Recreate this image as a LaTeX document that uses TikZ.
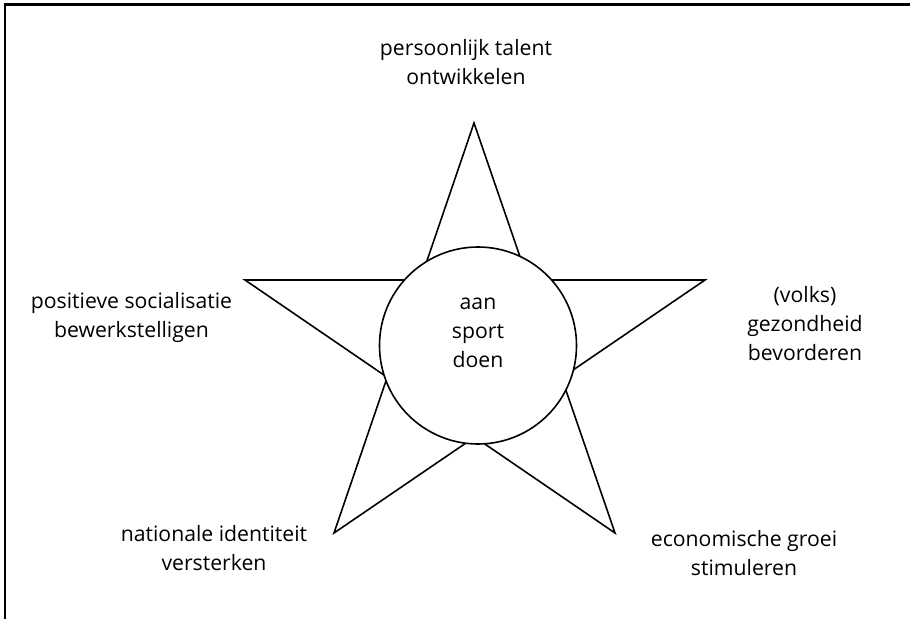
\documentclass[tikz,border=0pt]{standalone}
\usepackage{fontspec}
\setmainfont{Open Sans}
\begin{document}
\begin{tikzpicture}[x=0.75pt,y=-0.75pt,
  starline/.style={line width=1.2pt,line join=miter},
  framestyle/.style={line width=1.6pt},
  lbl/.style={align=center,anchor=base,inner sep=0pt,font=\fontsize{15.9}{21.4}\selectfont},
  hub/.style={circle,draw,line width=1.2pt,fill=white,minimum size=197*0.75pt,inner sep=0pt}]
\useasboundingbox (0,0) rectangle (910,618);
% frame (top and left edges)
\coordinate (fTL) at (5,4.5);
\coordinate (fTR) at (912,4.5);
\coordinate (fBL) at (5,620);
\draw[framestyle] (fTR) -- (fTL) -- (fBL);
% star tips
\coordinate (T) at (474,123);
\coordinate (R) at (705,280);
\coordinate (BR) at (615,533);
\coordinate (BL) at (334,533);
\coordinate (L) at (245,280);
% inner vertices
\coordinate (iTR) at (intersection of T--BR and L--R);
\coordinate (iRB) at (intersection of R--BL and BR--T);
\coordinate (iBB) at (intersection of BR--L and BL--R);
\coordinate (iBL) at (intersection of BL--T and L--BR);
\coordinate (iLT) at (intersection of L--R and T--BL);
\draw[starline] (T) -- (iTR) -- (R) -- (iRB) -- (BR) -- (iBB) -- (BL) -- (iBL) -- (L) -- (iLT) -- cycle;
% centre circle
\node[hub] (centre) at (478,345.5) {};
\node[lbl] (centretext) at (478,367) {aan\\sport\\doen};
% labels
\node[lbl] (talent) at (466,84) {persoonlijk talent\\ontwikkelen};
\node[lbl] (health) at (805,360) {(volks)\\gezondheid\\bevorderen};
\node[lbl] (economy) at (744,575) {economische groei\\stimuleren};
\node[lbl] (identity) at (214,570.5) {nationale identiteit\\versterken};
\node[lbl] (social) at (131.5,337) {positieve socialisatie\\bewerkstelligen};
\end{tikzpicture}
\end{document}
